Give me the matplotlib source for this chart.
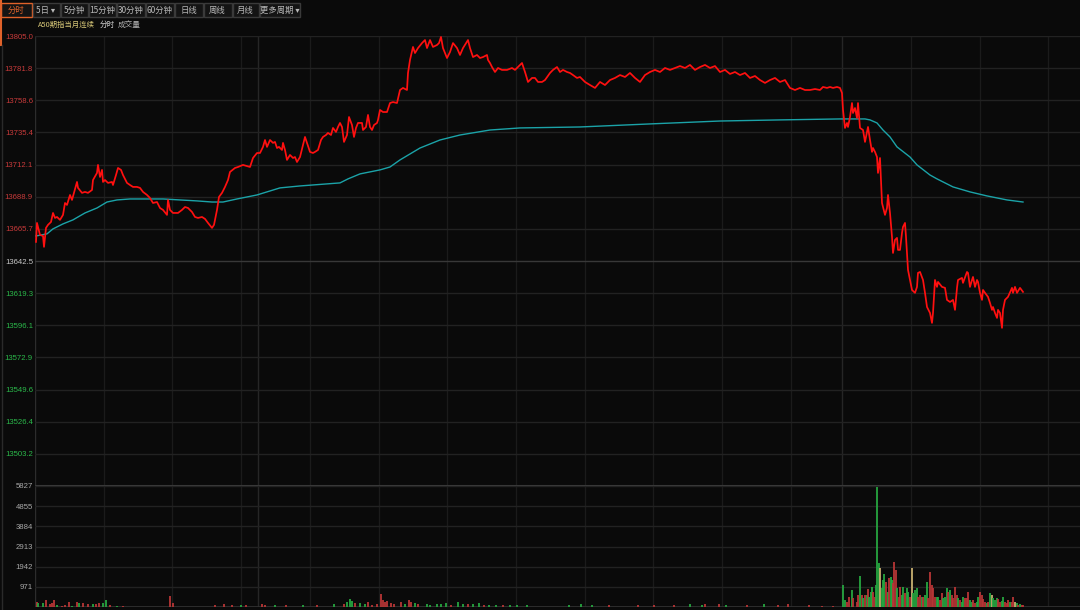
import numpy as np
import matplotlib
matplotlib.use("Agg")
import matplotlib.pyplot as plt
from matplotlib.patches import Rectangle

plt.rcParams['font.family'] = ['Noto Sans CJK SC', 'DejaVu Sans']

# 分时数据: 时间槽 / 最新价
t_price = [1, 2, 5, 8, 9, 11, 13, 16, 18, 20,
           22, 25, 28, 30, 32, 35, 37, 39, 42, 43,
           47, 50, 53, 57, 58, 62, 63, 65, 67, 68,
           70, 73, 77, 78, 81, 83, 86, 88, 92, 95,
           98, 102, 105, 108, 112, 115, 118, 122, 125, 128,
           132, 133, 135, 138, 143, 147, 150, 153, 157, 160,
           163, 167, 170, 173, 177, 179, 182, 184, 187, 190,
           193, 195, 200, 203, 208, 215, 218, 222, 225, 228,
           230, 232, 235, 238, 240, 242, 244, 247, 248, 250,
           252, 255, 258, 260, 262, 265, 268, 270, 272, 275,
           278, 280, 283, 286, 288, 291, 293, 296, 298, 301,
           303, 305, 307, 309, 312, 314, 317, 319, 321, 323,
           327, 328, 331, 333, 335, 337, 339, 342, 343, 345,
           348, 352, 355, 358, 362, 365, 368, 372, 373, 375,
           378, 380, 383, 387, 390, 392, 395, 398, 402, 404,
           406, 408, 412, 415, 418, 422, 425, 428, 433, 435,
           438, 442, 445, 448, 452, 453, 455, 457, 460, 463,
           467, 472, 477, 480, 483, 487, 490, 493, 497, 500,
           503, 507, 510, 515, 518, 522, 525, 528, 532, 535,
           538, 542, 545, 550, 555, 560, 565, 570, 575, 580,
           585, 590, 595, 600, 605, 610, 615, 620, 625, 630,
           635, 640, 645, 650, 655, 660, 665, 670, 675, 680,
           685, 690, 695, 700, 705, 710, 715, 720, 725, 730,
           735, 740, 745, 750, 755, 760, 765, 770, 775, 780,
           785, 788, 792, 795, 798, 802, 805, 807, 808, 810,
           812, 813, 815, 817, 818, 820, 822, 823, 825, 828,
           830, 832, 833, 835, 837, 838, 840, 842, 843, 845,
           847, 848, 850, 852, 853, 855, 857, 858, 860, 862,
           863, 865, 867, 868, 870, 871, 873, 877, 880, 882,
           883, 885, 888, 890, 892, 895, 897, 898, 900, 902,
           903, 907, 910, 912, 915, 918, 920, 922, 923, 927,
           928, 932, 933, 935, 937, 938, 940, 942, 943, 945,
           947, 948, 950, 953, 955, 957, 958, 960, 962, 963,
           965, 967, 968, 970, 973, 977, 978, 980, 982, 985,
           988]
price = [13656.3, 13670.0, 13661.3, 13660.6, 13652.7, 13666.4, 13668.6, 13670.7, 13677.2, 13673.6,
         13674.3, 13672.2, 13675.8, 13684.4, 13683.0, 13690.2, 13686.6, 13691.7, 13699.6, 13695.3,
         13691.7, 13692.4, 13691.7, 13693.8, 13701.0, 13706.1, 13711.9, 13703.2, 13708.3, 13699.6,
         13701.0, 13698.9, 13699.6, 13697.4, 13704.6, 13709.7, 13708.3, 13704.6, 13698.9, 13697.4,
         13696.0, 13696.0, 13695.3, 13692.4, 13690.2, 13688.0, 13684.4, 13685.1, 13680.8, 13679.4,
         13675.8, 13686.6, 13679.4, 13677.2, 13677.2, 13679.4, 13681.5, 13680.8, 13677.9, 13674.3,
         13673.6, 13674.3, 13672.9, 13670.0, 13666.4, 13668.6, 13679.4, 13688.8, 13691.7, 13696.0,
         13701.0, 13706.8, 13709.7, 13710.4, 13711.9, 13710.4, 13716.9, 13720.5, 13720.5, 13724.9,
         13729.9, 13724.9, 13729.9, 13727.8, 13728.5, 13724.1, 13724.9, 13722.7, 13727.8, 13722.7,
         13715.5, 13719.1, 13716.9, 13717.6, 13714.0, 13717.6, 13726.3, 13732.1, 13727.8, 13721.3,
         13720.5, 13721.3, 13722.7, 13729.9, 13732.1, 13733.5, 13735.0, 13733.5, 13738.6, 13735.7,
         13739.3, 13742.2, 13739.3, 13728.5, 13733.5, 13746.5, 13740.7, 13732.1, 13738.6, 13742.2,
         13742.2, 13737.1, 13739.3, 13748.0, 13739.3, 13737.1, 13740.7, 13742.2, 13744.4, 13751.6,
         13750.1, 13750.1, 13756.6, 13757.3, 13756.6, 13766.0, 13767.5, 13766.0, 13778.3, 13787.7,
         13797.1, 13792.7, 13796.3, 13799.9, 13802.1, 13796.3, 13802.1, 13797.1, 13798.5, 13799.9,
         13804.3, 13796.3, 13789.1, 13793.4, 13799.9, 13796.3, 13791.3, 13796.3, 13802.1, 13796.3,
         13789.8, 13791.3, 13789.1, 13789.8, 13791.3, 13787.7, 13785.5, 13782.6, 13779.0, 13781.9,
         13780.5, 13780.5, 13781.9, 13780.5, 13782.6, 13785.5, 13779.0, 13771.8, 13774.7, 13774.7,
         13771.8, 13771.8, 13773.2, 13778.3, 13780.5, 13782.6, 13779.0, 13780.5, 13779.0, 13778.3,
         13776.8, 13774.7, 13775.4, 13771.8, 13769.6, 13767.5, 13771.8, 13769.6, 13773.2, 13774.7,
         13776.8, 13775.4, 13778.3, 13774.7, 13771.8, 13776.8, 13779.0, 13780.5, 13779.0, 13781.9,
         13780.5, 13781.9, 13783.3, 13781.9, 13784.1, 13780.5, 13782.6, 13784.1, 13781.9, 13783.3,
         13779.0, 13780.5, 13777.6, 13779.0, 13776.8, 13778.3, 13774.7, 13776.1, 13773.2, 13771.1,
         13773.2, 13774.7, 13771.8, 13773.2, 13767.5, 13766.0, 13767.5, 13766.0, 13766.0, 13766.7,
         13766.0, 13768.2, 13767.5, 13768.2, 13767.5, 13768.2, 13767.5, 13763.8, 13751.6, 13738.6,
         13742.2, 13739.3, 13746.5, 13756.6, 13749.4, 13753.0, 13745.8, 13756.6, 13738.6, 13737.1,
         13728.5, 13735.7, 13739.3, 13729.9, 13721.3, 13724.1, 13721.3, 13717.6, 13706.1, 13716.9,
         13684.4, 13681.5, 13675.8, 13680.8, 13690.2, 13677.2, 13659.9, 13648.3, 13657.7, 13659.2,
         13650.5, 13650.5, 13662.8, 13667.1, 13670.0, 13659.9, 13636.1, 13621.6, 13619.5, 13623.8,
         13633.9, 13634.6, 13628.8, 13619.5, 13609.3, 13605.0, 13597.8, 13605.0, 13628.8, 13623.8,
         13627.4, 13623.8, 13623.1, 13614.4, 13612.9, 13614.4, 13607.2, 13623.1, 13628.8, 13630.3,
         13626.7, 13634.6, 13633.9, 13623.8, 13628.8, 13631.0, 13623.8, 13628.8, 13627.4, 13619.5,
         13614.4, 13621.6, 13619.5, 13616.6, 13612.2, 13607.2, 13609.3, 13605.0, 13601.4, 13607.2,
         13605.0, 13594.2, 13607.2, 13614.4, 13616.6, 13623.1, 13619.5, 13623.8, 13619.5, 13623.1,
         13620.2]

# 均价线
t_avg = [1, 12, 18, 28, 38, 43, 50, 62, 72, 82,
         95, 128, 162, 177, 188, 202, 222, 245, 265, 305,
         313, 325, 345, 355, 365, 385, 405, 425, 455, 485,
         545, 615, 685, 745, 805, 830, 835, 842, 848, 855,
         862, 875, 882, 895, 902, 918, 935, 952, 972, 988]
avg_price = [13660.6, 13662.1, 13665.7, 13669.3, 13672.2, 13674.3, 13677.2, 13680.8, 13685.1, 13686.6,
             13687.3, 13687.3, 13685.9, 13685.1, 13685.1, 13687.3, 13690.2, 13695.3, 13696.7, 13698.9,
             13701.8, 13705.4, 13708.3, 13710.4, 13715.5, 13724.1, 13729.9, 13733.5, 13737.1, 13738.6,
             13739.3, 13741.5, 13743.6, 13744.4, 13745.1, 13745.1, 13744.4, 13742.2, 13737.1, 13732.1,
             13724.9, 13717.6, 13711.9, 13704.6, 13701.8, 13696.0, 13692.4, 13689.5, 13686.6, 13685.1]

# 成交量: 时间槽 / 手数 / 方向 (r 涨, g 跌, y 平)
t_vol = [2, 3, 8, 11, 15, 17, 19, 22, 27, 30,
         34, 37, 42, 44, 48, 53, 58, 61, 64, 68,
         71, 75, 82, 88, 135, 138,
         180, 189, 197, 206, 211, 227, 230, 240, 251, 268,
         282, 299, 309, 312, 315, 317, 320, 325, 330, 333,
         337, 342, 346, 348, 350, 352, 356, 359, 366, 370,
         374, 376, 380, 383, 392, 395, 402, 406, 411, 416,
         423, 428, 433, 438, 444, 449, 454, 461, 468, 475,
         482, 492,
         534, 546, 557, 574, 603, 619, 639, 655, 667, 670,
         684, 691, 712, 729, 743, 753, 774, 787, 798,
         808, 810, 812, 814, 817, 818, 822, 823, 825, 827,
         828, 830, 832, 833, 834, 836, 837, 838, 840, 841,
         842, 844, 845, 847, 848, 849, 851, 853, 854, 856,
         857, 858, 859, 861, 862, 864, 865, 867, 868, 870,
         872, 873, 875, 877, 878, 880, 882, 883, 885, 887,
         888, 890, 892, 893, 895, 897, 898, 900, 902, 903,
         905, 907, 908, 910, 912, 913, 915, 917, 918, 920,
         922, 923, 925, 927, 928, 930, 932, 933, 935, 937,
         938, 940, 942, 943, 945, 947, 948, 950, 952, 953,
         955, 957, 958, 960, 962, 963, 965, 967, 968, 970,
         972, 973, 975, 977, 978, 980, 982, 983, 985, 987, 988]
vol = [225, 175, 175, 320, 130, 175, 335, 95, 65, 95,
       225, 65, 255, 175, 175, 130, 130, 160, 190, 175,
       335, 95, 65, 65, 545, 175,
       80, 165, 80, 115, 115, 165, 115, 80, 100, 80,
       80, 150, 165, 250, 365, 280, 215, 180, 150, 250,
       115, 165, 610, 315, 250, 280, 180, 150, 250, 150,
       315, 250, 200, 165, 165, 115, 150, 150, 200, 115,
       250, 150, 130, 150, 200, 115, 115, 115, 100, 80,
       115, 80,
       80, 150, 115, 80, 80, 80, 80, 150, 115, 150,
       150, 80, 80, 150, 115, 150, 80, 65, 65,
       1059, 337, 257, 498, 819, 417, 257, 578, 1493, 578,
       417, 578, 578, 851, 498, 738, 979, 738, 498, 1059,
       5795, 2102, 1862, 899, 1300, 1589, 1220, 738, 1380, 1461,
       1300, 1140, 2183, 1782, 899, 498, 979, 578, 979, 658,
       899, 738, 498, 1862, 658, 819, 899, 498, 578, 498,
       498, 578, 1220, 417, 1701, 1059, 899, 498, 498, 498,
       337, 658, 417, 498, 899, 738, 819, 578, 417, 979,
       578, 417, 337, 257, 498, 417, 417, 738, 337, 257,
       337, 209, 257, 498, 738, 578, 369, 257, 209, 257,
       658, 578, 417, 337, 417, 369, 257, 305, 498, 257,
       209, 337, 257, 257, 498, 257, 177, 96, 144, 96, 96]
vol_dir = ("rggrrrrgrr" "rgrgrrgrrg" "grgrrr"
           "rrrgrrrgrg" "rgrgggrggr" "rrrrrrrrrg" "rrgrgggggr" "ggrggrggrg" "gg"
           "gggrrrrggr" "rgrgrrrrr"
           "ggrrgrrrgr" "grgrgggrrg" "ggygggrgrg" "grrrgrrggr" "ggrygggrrg"
           "rggrrrrrgg" "rrgggrgrrr" "rgrggrrrgg" "rrggrrrrgr" "gygggrrggr" "rrgrrygrgrr")

price_ticks = [13805.0, 13781.8, 13758.6, 13735.4, 13712.1, 13688.9, 13665.7,
               13642.5, 13619.3, 13596.1, 13572.9, 13549.6, 13526.4, 13503.2]
vol_ticks = [971, 1942, 2913, 3884, 4855, 5827]
grid_slots = [69, 137, 206, 275, 344, 412, 481, 550, 618, 687, 756, 876, 945, 1013]
session_slots = [223, 807]

buttons = ["分时", "5日 ▾", "5分钟", "15分钟", "30分钟", "60分钟", "日线", "周线", "月线", "更多周期 ▾"]
button_edges = [0, 32, 60, 88, 116, 145, 174, 203, 232, 259, 300]

bg = '#0a0a0a'
grid_h = '#222222'
grid_v = '#1b1b1b'

fig = plt.figure(figsize=(10.8, 6.1), dpi=100, facecolor=bg)
ax = fig.add_axes([35 / 1080, 124 / 610, 1045 / 1080, 450 / 610])
axv = fig.add_axes([35 / 1080, 3 / 610, 1045 / 1080, 121 / 610])

for a in (ax, axv):
    a.set_facecolor(bg)
    a.set_xlim(0, 1045)
    for s in a.spines.values():
        s.set_visible(False)
    a.set_xticks([])
    for g in grid_slots:
        a.axvline(g, color=grid_v, lw=0.9, zorder=0)
    for g in session_slots:
        a.axvline(g, color='#262626', lw=1.0, zorder=0)
    a.axvline(0.3, color='#2c2c2c', lw=1.0, zorder=0)

# 价格面板
ax.set_ylim(13480.0, 13805.0)
for p in price_ticks:
    c = '#383838' if p == 13642.5 else grid_h
    ax.axhline(p, color=c, lw=1.0, zorder=0)
ax.axhline(13480.0, color='#383838', lw=1.5, zorder=0)
ax.plot(t_avg, avg_price, color='#1ba3a8', lw=1.0, zorder=2)
ax.plot(t_price, price, color='#ff1010', lw=1.25, zorder=3)
ax.set_yticks(price_ticks)
ax.set_yticklabels(['%.1f' % p for p in price_ticks], family='Liberation Sans')
ax.tick_params(axis='y', length=0, pad=1.5, labelsize=5.6)
for lab, p in zip(ax.get_yticklabels(), price_ticks):
    if p > 13642.5:
        lab.set_color('#c83a3a')
    elif p < 13642.5:
        lab.set_color('#2bb84a')
    else:
        lab.set_color('#c8c8c8')

# 成交量面板
axv.set_ylim(0, 5827)
for v in vol_ticks:
    axv.axhline(v, color=grid_h, lw=1.0, zorder=0)
axv.axhline(0, color='#333333', lw=1.2, zorder=1)
cmap = {'r': '#b83636', 'g': '#26a640', 'y': '#c8b070'}
axv.bar(t_vol, vol, width=1.3, color=[cmap[c] for c in vol_dir], alpha=0.9, zorder=2, linewidth=0)
axv.set_yticks(vol_ticks)
axv.set_yticklabels([str(v) for v in vol_ticks], family='Liberation Sans')
axv.tick_params(axis='y', length=0, pad=1.5, labelsize=5.6, colors='#a8a8a8')

# 顶部工具栏
top = fig.add_axes([0, 0, 1, 1], zorder=-1)
top.set_xlim(0, 1080)
top.set_ylim(610, 0)
top.axis('off')
top.set_facecolor('none')
for i, name in enumerate(buttons):
    x0, x1 = button_edges[i], button_edges[i + 1]
    sel = i == 0
    top.add_patch(Rectangle((x0 + 0.5, 3), x1 - x0 - 1, 14, facecolor='#141414',
                            edgecolor='#e0622a' if sel else '#3a3a3a', lw=1.0))
    top.text((x0 + x1) / 2, 10.5, name, color='#e0622a' if sel else '#b8b8b8',
             fontsize=6, ha='center', va='center')
top.add_line(plt.Line2D([0.8, 0.8], [0, 45], color='#e0622a', lw=1.5))
top.add_line(plt.Line2D([1.5, 1.5], [45, 610], color='#2a2a2a', lw=1.0))
top.text(38, 25, "A50期指当月连续", color='#d8c878', fontsize=5.3, va='center')
top.text(100, 25, "分时", color='#d0d0d0', fontsize=5.5, va='center')
top.text(118, 25, "成交量", color='#b0b0b0', fontsize=5.5, va='center')

fig.savefig('out.png', dpi=100, facecolor=bg)
